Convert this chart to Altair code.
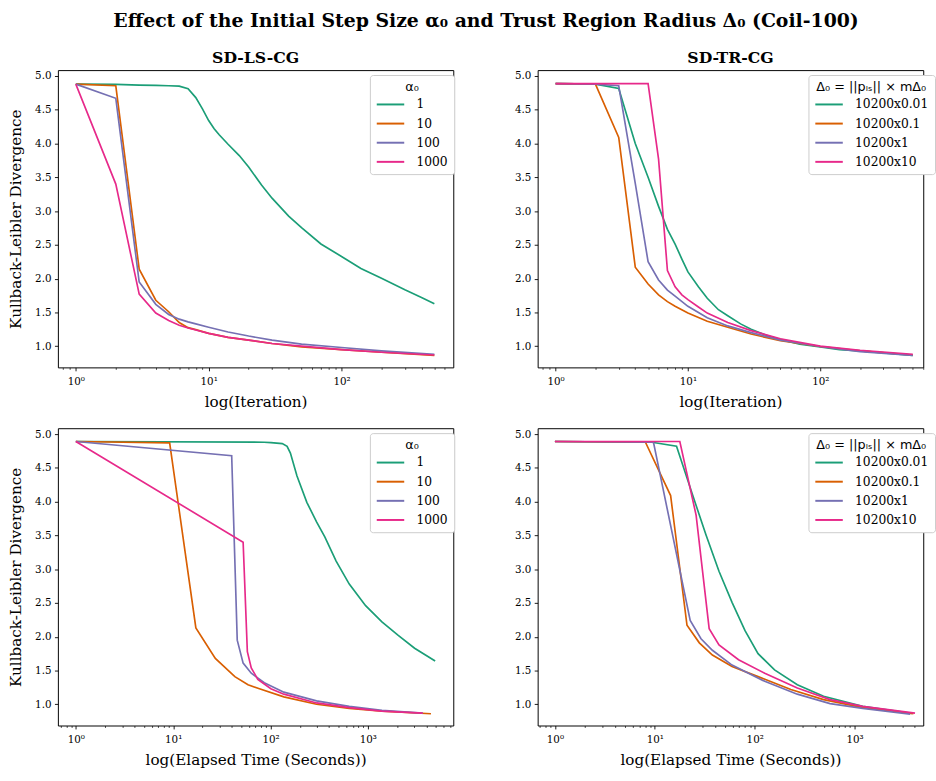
import altair as alt
import pandas as pd

# ---------------- data ----------------
SERIES_LS = ["1", "10", "100", "1000"]
SERIES_TR = ["10200x0.01", "10200x0.1", "10200x1", "10200x10"]
COLORS = ["#1b9e77", "#d95f02", "#7570b3", "#e7298a"]

# SD-LS-CG, by iteration
LS_IT_1 = [1, 2, 3, 4, 5, 6, 7, 8, 9, 10, 11, 12, 14, 17, 20, 25, 30, 40, 50, 70, 100, 140, 200, 300, 400, 500]
LS_KL_1 = [4.88, 4.875, 4.865, 4.86, 4.855, 4.85, 4.81, 4.68, 4.51, 4.34, 4.22, 4.13, 3.99, 3.822, 3.652,
           3.385, 3.191, 2.925, 2.755, 2.513, 2.328, 2.149, 2.004, 1.834, 1.722, 1.630]
LS_IT_10 = [1, 2, 3, 4, 5, 6, 7, 8, 10, 14, 20, 30, 50, 100, 200, 500]
LS_KL_10 = [4.88, 4.855, 2.14, 1.68, 1.51, 1.35, 1.275, 1.245, 1.19, 1.13, 1.09, 1.04, 0.99, 0.95, 0.91, 0.865]
LS_IT_100 = [1, 2, 3, 4, 5, 6, 7, 8, 10, 14, 20, 30, 50, 100, 200, 500]
LS_KL_100 = [4.88, 4.67, 1.95, 1.62, 1.47, 1.40, 1.36, 1.33, 1.28, 1.21, 1.15, 1.09, 1.03, 0.98, 0.93, 0.88]
LS_IT_1000 = [1, 2, 3, 4, 5, 6, 7, 8, 10, 14, 20, 30, 50, 100, 200, 500]
LS_KL_1000 = [4.88, 3.40, 1.77, 1.49, 1.38, 1.31, 1.27, 1.24, 1.19, 1.13, 1.09, 1.04, 1.0, 0.95, 0.91, 0.87]

# SD-TR-CG, by iteration
TR_IT_001 = [1, 2, 3, 4, 5, 6, 7, 8, 9, 10, 12, 14, 17, 20, 25, 30, 40, 50, 70, 100, 140, 200, 300, 500]
TR_KL_001 = [4.888, 4.879, 4.816, 4.0, 3.5, 3.07, 2.73, 2.51, 2.29, 2.10, 1.88, 1.71, 1.54, 1.45, 1.33,
             1.25, 1.155, 1.10, 1.03, 0.99, 0.95, 0.93, 0.90, 0.865]
TR_IT_01 = [1, 2, 3, 4, 5, 6, 7, 8, 10, 14, 20, 30, 50, 100, 200, 500]
TR_KL_01 = [4.888, 4.88, 4.09, 2.17, 1.92, 1.76, 1.66, 1.59, 1.49, 1.37, 1.28, 1.18, 1.08, 0.995, 0.93, 0.87]
TR_IT_1 = [1, 2, 3, 4, 5, 6, 7, 8, 10, 14, 20, 30, 50, 100, 200, 500]
TR_KL_1 = [4.888, 4.88, 4.855, 3.41, 2.25, 1.98, 1.83, 1.74, 1.59, 1.42, 1.30, 1.20, 1.09, 0.995, 0.92, 0.865]
TR_IT_10 = [1, 2, 3, 4, 5, 6, 7, 8, 9, 10, 12, 14, 20, 30, 50, 100, 200, 500]
TR_KL_10 = [4.888, 4.888, 4.888, 4.888, 4.888, 3.77, 2.12, 1.88, 1.76, 1.69, 1.58, 1.49, 1.35, 1.23, 1.11,
            1.0, 0.94, 0.88]

# SD-LS-CG, by elapsed time (s)
LS_T_1 = [1, 86, 101, 132, 148, 160, 187, 236, 297, 361, 472, 644, 948, 1394, 2051, 3020, 4910]
LS_TKL_1 = [4.89, 4.88, 4.875, 4.86, 4.82, 4.72, 4.38, 3.99, 3.70, 3.48, 3.12, 2.78, 2.46, 2.22, 2.02, 1.83, 1.64]
LS_T_10 = [1, 9.2, 17.1, 27.1, 43, 58.7, 76.9, 137, 297, 644, 1394, 4446]
LS_TKL_10 = [4.89, 4.87, 2.13, 1.68, 1.41, 1.29, 1.23, 1.11, 1.0, 0.94, 0.90, 0.86]
LS_T_100 = [1, 39.9, 45.5, 52.3, 63.4, 86.3, 137, 297, 644, 1394, 3664]
LS_TKL_100 = [4.89, 4.68, 1.95, 1.61, 1.46, 1.32, 1.18, 1.05, 0.97, 0.91, 0.87]
LS_T_1000 = [1, 52.3, 57.8, 63.4, 74, 100.8, 137, 297, 644, 1394, 3664]
LS_TKL_1000 = [4.89, 3.40, 1.78, 1.54, 1.37, 1.23, 1.15, 1.02, 0.95, 0.90, 0.87]

# SD-TR-CG, by elapsed time (s)
TR_T_001 = [1, 9.37, 16.5, 24, 32.5, 43.9, 59.3, 80, 108, 158, 267, 489, 1205, 3733]
TR_TKL_001 = [4.89, 4.88, 4.82, 4.09, 3.51, 2.97, 2.51, 2.09, 1.75, 1.51, 1.29, 1.12, 0.97, 0.865]
TR_T_01 = [1, 8.06, 14.4, 21, 27.9, 37.7, 59.3, 108, 230, 489, 1205, 3880]
TR_TKL_01 = [4.89, 4.88, 4.09, 2.17, 1.91, 1.73, 1.56, 1.41, 1.22, 1.07, 0.95, 0.86]
TR_T_1 = [1, 9.7, 22.6, 29, 37.7, 59.3, 126, 267, 568, 1205, 3595]
TR_TKL_1 = [4.89, 4.88, 2.24, 1.97, 1.80, 1.58, 1.34, 1.15, 1.01, 0.94, 0.855]
TR_T_10 = [1, 17.8, 25.9, 35, 43.9, 68.9, 126, 267, 568, 1205, 4024]
TR_TKL_10 = [4.89, 4.89, 3.80, 2.12, 1.88, 1.66, 1.46, 1.24, 1.07, 0.97, 0.87]

Y_TICKS = [1.0, 1.5, 2.0, 2.5, 3.0, 3.5, 4.0, 4.5, 5.0]
MAIN_TITLE = "Effect of the Initial Step Size α₀ and Trust Region Radius Δ₀ (Coil-100)"

SERIF = "DejaVu Serif"


def make_df(xs_list, ys_list, labels):
    rows = []
    for lab, xs, ys in zip(labels, xs_list, ys_list):
        for i, (x, y) in enumerate(zip(xs, ys)):
            rows.append({"x": x, "y": y, "s": lab, "i": i})
    return pd.DataFrame(rows)


def log_ticks(lo, hi):
    vals = []
    for e in range(-1, 5):
        for m in range(1, 10):
            v = round(m * 10 ** e, 6)
            if lo <= v <= hi:
                vals.append(v)
    return vals


LABEL_EXPR = ("datum.value == 1 ? '10⁰' : datum.value == 10 ? '10¹' : "
              "datum.value == 100 ? '10²' : datum.value == 1000 ? '10³' : ''")
MAJOR_TEST = "datum.value == 1 || datum.value == 10 || datum.value == 100 || datum.value == 1000"


def panel(df, labels, xdom, width, xtitle, ytitle, ptitle, ltitle, lx, ly):
    xaxis = alt.Axis(
        values=log_ticks(xdom[0], xdom[1]), labelExpr=LABEL_EXPR,
        tickSize={"condition": {"test": MAJOR_TEST, "value": 3.5}, "value": 2},
        tickWidth={"condition": {"test": MAJOR_TEST, "value": 0.9}, "value": 0.7},
        labelOverlap=False, labelFlush=False, grid=False, domain=False,
        tickColor="black", labelColor="black", labelFont=SERIF, labelFontSize=10.5,
        labelPadding=6, title=xtitle, titleFont=SERIF, titleFontSize=15.5,
        titleFontWeight="normal", titleColor="black", titlePadding=8,
    )
    yaxis_kw = dict(
        values=Y_TICKS, format=".1f", grid=False, domain=False, tickSize=3.5, tickWidth=0.9,
        tickColor="black", labelColor="black", labelFont=SERIF, labelFontSize=10.5,
        labelPadding=3.5, titleFont=SERIF, titleFontSize=15.5, titleFontWeight="normal",
        titleColor="black", titlePadding=11,
    )
    if ytitle:
        yaxis = alt.Axis(title=ytitle, **yaxis_kw)
    else:
        yaxis = alt.Axis(title=None, **yaxis_kw)
    legend = alt.Legend(
        title=ltitle, orient="none", legendX=lx, legendY=ly,
        titleFont="DejaVu Sans", titleFontSize=13, titleFontWeight="normal", titleColor="black",
        titleAnchor="middle", titlePadding=3,
        labelFont=SERIF, labelFontSize=12.5, labelColor="black", labelOffset=25.5,
        symbolType="M-1,0H3", symbolSize=196, symbolStrokeWidth=2,
        strokeColor="#cccccc", fillColor="white", cornerRadius=3, padding=6, rowPadding=4.5,
    )
    props = dict(width=width, height=303)
    if ptitle:
        props["title"] = alt.TitleParams(ptitle, font=SERIF, fontSize=16, fontWeight="bold",
                                         color="black", offset=4)
    return alt.Chart(df).mark_line(strokeWidth=1.7, clip=True).encode(
        x=alt.X("x:Q", scale=alt.Scale(type="log", domain=list(xdom), nice=False), axis=xaxis),
        y=alt.Y("y:Q", scale=alt.Scale(domain=[0.686, 5.087], nice=False, zero=False), axis=yaxis),
        color=alt.Color("s:N", sort=labels, scale=alt.Scale(domain=labels, range=COLORS), legend=legend),
        order=alt.Order("i:Q"),
    ).properties(**props)


df_tl = make_df([LS_IT_1, LS_IT_10, LS_IT_100, LS_IT_1000],
                [LS_KL_1, LS_KL_10, LS_KL_100, LS_KL_1000], SERIES_LS)
df_tr = make_df([TR_IT_001, TR_IT_01, TR_IT_1, TR_IT_10],
                [TR_KL_001, TR_KL_01, TR_KL_1, TR_KL_10], SERIES_TR)
df_bl = make_df([LS_T_1, LS_T_10, LS_T_100, LS_T_1000],
                [LS_TKL_1, LS_TKL_10, LS_TKL_100, LS_TKL_1000], SERIES_LS)
df_br = make_df([TR_T_001, TR_T_01, TR_T_1, TR_T_10],
                [TR_TKL_001, TR_TKL_01, TR_TKL_1, TR_TKL_10], SERIES_TR)

LS_LEG = "α₀"
TR_LEG = "Δ₀ = ||pₗₛ|| × mΔ₀"

tl = panel(df_tl, SERIES_LS, (0.733, 694), 403, "log(Iteration)", "Kullback-Leibler Divergence",
           "SD-LS-CG", LS_LEG, 318, 5)
tr = panel(df_tr, SERIES_TR, (0.732, 600), 393, "log(Iteration)", None,
           "SD-TR-CG", TR_LEG, 276, 5)
bl = panel(df_bl, SERIES_LS, (0.654, 7540), 403, "log(Elapsed Time (Seconds))", "Kullback-Leibler Divergence",
           None, LS_LEG, 318, 5)
br = panel(df_br, SERIES_TR, (0.672, 4864), 393, "log(Elapsed Time (Seconds))", None,
           None, TR_LEG, 276, 5)

chart = alt.concat(tl, tr, bl, br, columns=2, spacing={"row": 17, "column": 59}).resolve_scale(
    color="independent", x="independent", y="independent"
).resolve_legend(color="independent").properties(
    title=alt.TitleParams(MAIN_TITLE, font=SERIF, fontSize=19.2, fontWeight="bold", color="black",
                          anchor="middle", offset=19.5, dx=14),
    padding={"left": 8, "top": 4, "right": 0, "bottom": 0},
).configure_view(stroke="black", strokeWidth=1)

chart.save("out.html", embed_options={"renderer": "svg", "actions": False})
